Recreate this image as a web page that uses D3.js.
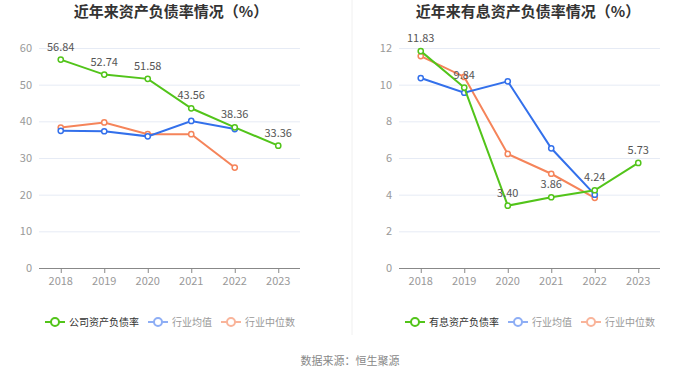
<!DOCTYPE html>
<html><head><meta charset="utf-8">
<script src="https://cdn.jsdelivr.net/npm/d3@7"></script>
<style>body{margin:0;background:#fff;}svg{display:block;font-family:"Noto Sans CJK SC","Noto Sans",sans-serif;}</style>
</head><body>
<svg id="c" width="700" height="378"></svg>
<script>
const years = ["2018","2019","2020","2021","2022","2023"];
const companyDebt = [56.84, 52.74, 51.58, 43.56, 38.36, 33.36];
const industryAvgDebt = [37.4, 37.3, 35.9, 40.1, 37.9, null];
const industryMedDebt = [38.3, 39.7, 36.5, 36.5, 27.4, null];
const companyIB = [11.83, 9.84, 3.40, 3.86, 4.24, 5.73];
const industryAvgIB = [10.36, 9.56, 10.18, 6.53, 4.0, null];
const industryMedIB = [11.56, 10.42, 6.22, 5.14, 3.83, null];
const leftTicks = [0,10,20,30,40,50,60];
const rightTicks = [0,2,4,6,8,10,12];

const GREEN="#52c41a", BLUE="#3370eb", ORANGE="#f5845a";
const svg = d3.select("#c");

svg.append("line").attr("x1",352).attr("x2",352).attr("y1",0).attr("y2",335)
  .attr("stroke","#f0f0f0").attr("stroke-width",1);

function chart(opt){
  const g = svg.append("g");
  const x = d3.scaleBand().domain(years).range([opt.x0, opt.x1]);
  const y = d3.scaleLinear().domain([0, d3.max(opt.ticks)]).range([268, 48]);
  g.append("text").attr("x",opt.tx).attr("y",17).attr("text-anchor","middle")
    .attr("font-size",15).attr("font-weight","bold").attr("fill","#333").text(opt.title);
  g.selectAll(".grid").data(opt.ticks.filter(t=>t>0)).enter().append("line")
    .attr("x1",opt.x0).attr("x2",opt.x1).attr("y1",d=>y(d)+0.5).attr("y2",d=>y(d)+0.5)
    .attr("stroke","#e6ebf5").attr("stroke-width",1);
  g.selectAll(".yl").data(opt.ticks).enter().append("text")
    .attr("x",opt.x0-7).attr("y",d=>y(d)+4).attr("text-anchor","end")
    .attr("font-size",11).attr("fill","#999").text(d=>d);
  g.append("line").attr("x1",opt.x0).attr("x2",opt.x1).attr("y1",268.5).attr("y2",268.5)
    .attr("stroke","#888").attr("stroke-width",1);
  g.selectAll(".xt").data(years).enter().append("line")
    .attr("x1",d=>x(d)+x.bandwidth()/2+0.5).attr("x2",d=>x(d)+x.bandwidth()/2+0.5)
    .attr("y1",268).attr("y2",273).attr("stroke","#888");
  g.selectAll(".xl").data(years).enter().append("text")
    .attr("x",d=>x(d)+x.bandwidth()/2).attr("y",285).attr("text-anchor","middle")
    .attr("font-size",11).attr("fill","#999").text(d=>d);
  const cx = i=>x(years[i])+x.bandwidth()/2;
  const line = d3.line().defined(d=>d!=null).x((d,i)=>cx(i)).y(d=>y(d));
  const series = [
    {v:opt.med, c:ORANGE},
    {v:opt.avg, c:BLUE},
    {v:opt.main, c:GREEN}
  ];
  series.forEach(s=>{
    g.append("path").attr("d",line(s.v)).attr("fill","none").attr("stroke",s.c).attr("stroke-width",2);
    g.selectAll(null).data(s.v.map((d,i)=>({d,i})).filter(o=>o.d!=null)).enter().append("circle")
      .attr("cx",o=>cx(o.i)).attr("cy",o=>y(o.d)).attr("r",2.6)
      .attr("fill","#fff").attr("stroke",s.c).attr("stroke-width",1.5);
  });
  g.selectAll(".vl").data(opt.main).enter().append("text")
    .attr("x",(d,i)=>cx(i)).attr("y",d=>y(d)-9).attr("text-anchor","middle")
    .attr("font-size",11).attr("fill","#555").text(d=>d.toFixed(2));
  const items = [
    {t:opt.label, c:GREEN, tc:"#333"},
    {t:"行业均值", c:"#8eaef5", tc:"#999"},
    {t:"行业中位数", c:"#f9b49a", tc:"#999"}
  ];
  let lx = opt.lx;
  items.forEach(it=>{
    g.append("line").attr("x1",lx).attr("x2",lx+20).attr("y1",322).attr("y2",322)
      .attr("stroke",it.c).attr("stroke-width",2);
    g.append("circle").attr("cx",lx+10).attr("cy",322).attr("r",4)
      .attr("fill","#fff").attr("stroke",it.c).attr("stroke-width",2);
    g.append("text").attr("x",lx+24).attr("y",325.5).attr("font-size",10)
      .attr("fill",it.tc).text(it.t);
    lx += 24 + it.t.length*10 + 9;
  });
}

chart({x0:39,x1:300,tx:171,title:"近年来资产负债率情况（%）",ticks:leftTicks,
  main:companyDebt,avg:industryAvgDebt,med:industryMedDebt,label:"公司资产负债率",lx:45});
chart({x0:399,x1:660,tx:528,title:"近年来有息资产负债率情况（%）",ticks:rightTicks,
  main:companyIB,avg:industryAvgIB,med:industryMedIB,label:"有息资产负债率",lx:405});

svg.append("text").attr("x",350).attr("y",365).attr("text-anchor","middle")
  .attr("font-size",11).attr("fill","#888").text("数据来源：恒生聚源");
</script>
</body></html>
